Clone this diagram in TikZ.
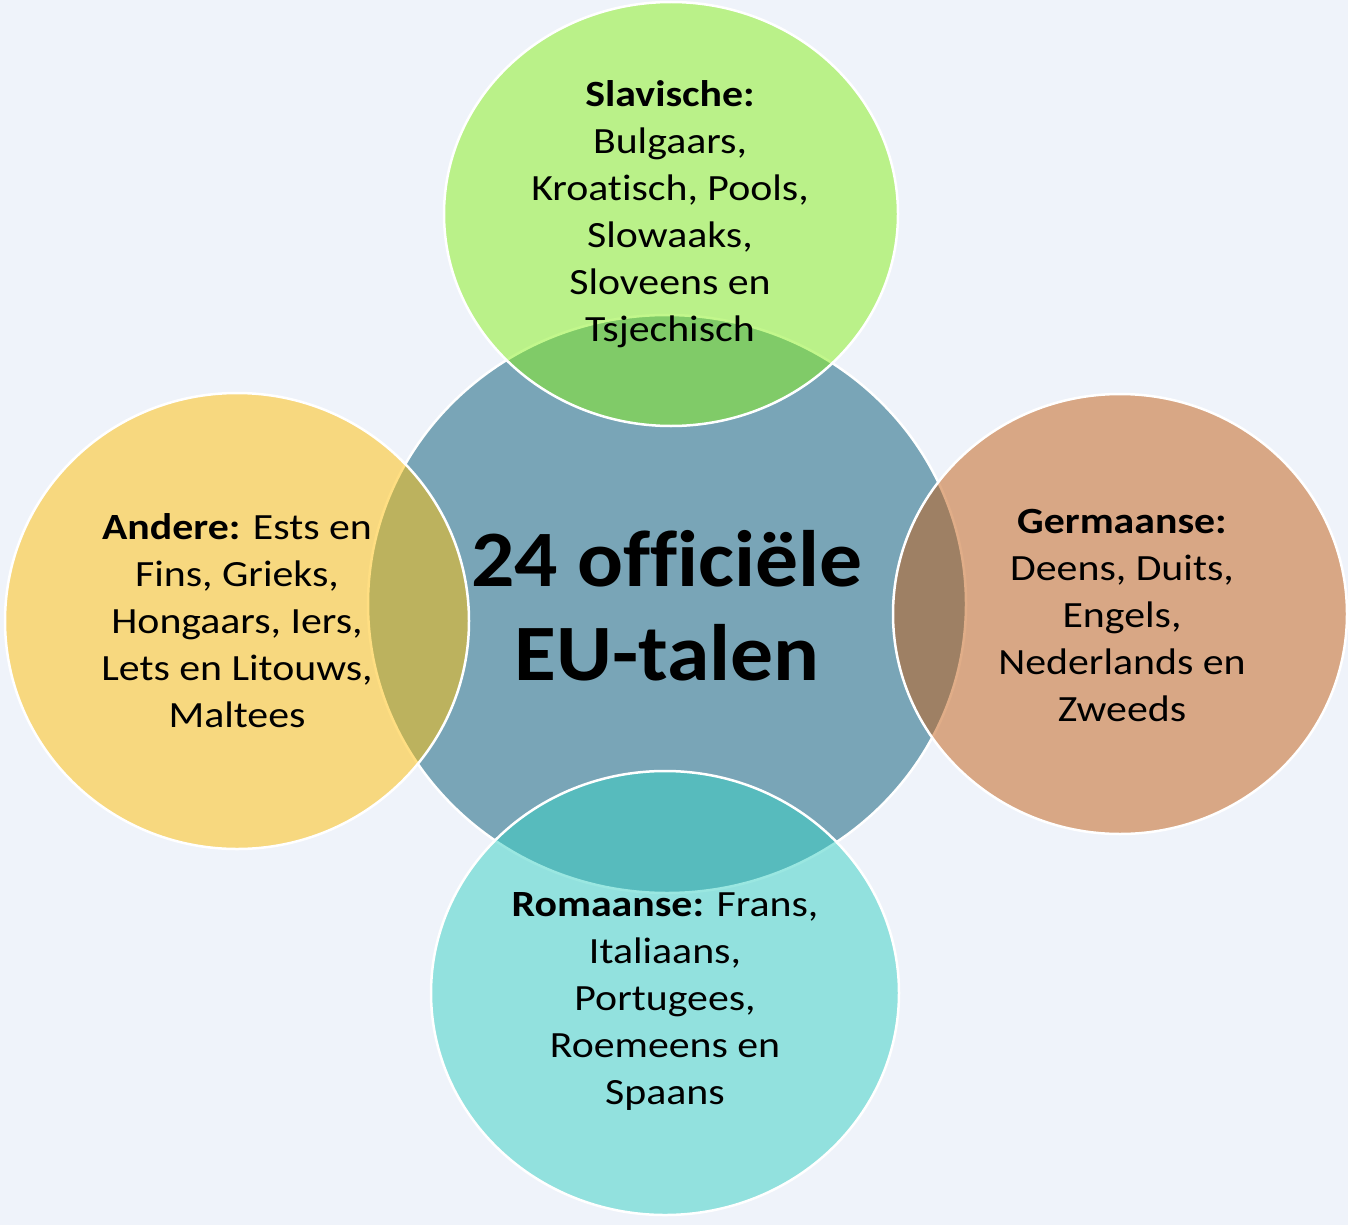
\documentclass[tikz,border=0pt]{standalone}
\usepackage{fontspec}
\setmainfont[Ligatures=NoCommon]{Carlito}
\newfontfamily\bodyfont[Ligatures=NoCommon, FakeStretch=1.13]{Carlito}
\newfontfamily\titlefont[Ligatures=NoCommon, FakeStretch=1.07]{Carlito}
\definecolor{bgcol}{RGB}{239,243,250}
\definecolor{centercol}{RGB}{121,165,183}
\definecolor{greencol}{RGB}{135,241,26}
\definecolor{yellowcol}{RGB}{255,191,6}
\definecolor{orangecol}{RGB}{195,93,18}
\definecolor{cyancol}{RGB}{55,209,196}
\tikzset{
  outer/.style={draw=white, line width=2.5pt, fill opacity=0.5},
  bodytext/.style={align=center, font=\bodyfont\fontsize{37}{47}\selectfont, text=black, inner sep=0pt},
  titletext/.style={align=center, font=\titlefont\fontsize{80}{94}\selectfont\bfseries, text=black, inner sep=0pt}
}
\begin{document}
\begin{tikzpicture}[x=1pt,y=-1pt]
\fill[bgcol] (0,0) rectangle (1348,1225);
\useasboundingbox (0,0) rectangle (1348,1225);
\begin{scope}
\clip (0,0) rectangle (1348,1225);
\fill[centercol, draw=white, line width=2.5pt] (667,604) ellipse [x radius=299, y radius=289];
\filldraw[outer, fill=greencol] (671,214) ellipse [x radius=227, y radius=212];
\filldraw[outer, fill=yellowcol] (237,621) ellipse [x radius=232, y radius=228];
\filldraw[outer, fill=orangecol] (1120,614) ellipse [x radius=227, y radius=220];
\filldraw[outer, fill=cyancol] (665,993) ellipse [x radius=234, y radius=222];
\end{scope}
\node[titletext] (title) at (667,606) {24 officiële\\EU-talen};
\node[bodytext] (slav) at (670,214) {\textbf{Slavische:}\\Bulgaars,\\Kroatisch, Pools,\\Slowaaks,\\Sloveens en\\Tsjechisch};
\node[bodytext] (andere) at (237,621) {\textbf{Andere:} Ests en\\Fins, Grieks,\\Hongaars, Iers,\\Lets en Litouws,\\Maltees};
\node[bodytext] (germ) at (1122,615) {\textbf{Germaanse:}\\Deens, Duits,\\Engels,\\Nederlands en\\Zweeds};
\node[bodytext] (rom) at (665,1001) {\textbf{Romaanse:} Frans,\\Italiaans,\\Portugees,\\Roemeens en\\Spaans};
\end{tikzpicture}
\end{document}
